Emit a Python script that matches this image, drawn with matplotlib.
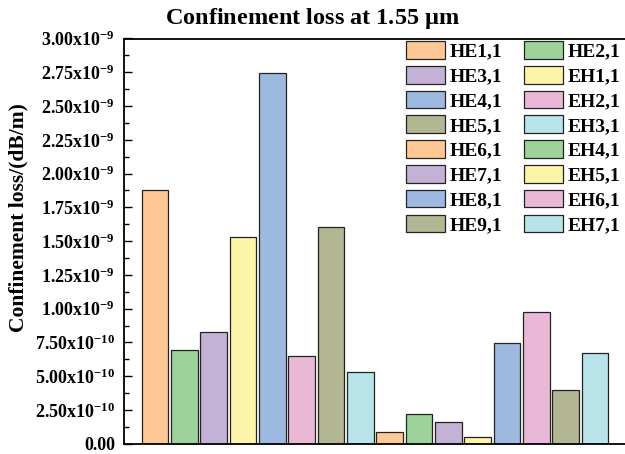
import matplotlib as mpl
import matplotlib.pyplot as plt
from matplotlib.ticker import FixedLocator, MultipleLocator

mpl.use("Agg")
mpl.rcParams.update(
    {
        "font.family": "Liberation Serif",
        "font.weight": "bold",
        "mathtext.fontset": "custom",
        "mathtext.rm": "Liberation Serif:bold",
        "mathtext.it": "Liberation Serif:bold",
        "mathtext.bf": "Liberation Serif:bold",
    }
)

modes = [
    "HE1,1", "HE2,1", "HE3,1", "EH1,1", "HE4,1", "EH2,1", "HE5,1", "EH3,1",
    "HE6,1", "EH4,1", "HE7,1", "EH5,1", "HE8,1", "EH6,1", "HE9,1", "EH7,1",
]
# confinement loss in dB/m
loss = [
    1.88e-9, 0.695e-9, 0.83e-9, 1.533e-9, 2.742e-9, 0.652e-9, 1.607e-9, 0.529e-9,
    0.085e-9, 0.218e-9, 0.16e-9, 0.048e-9, 0.744e-9, 0.973e-9, 0.40e-9, 0.674e-9,
]
palette = ["#FDC895", "#9DD39B", "#C3B1D6", "#FCF4A8", "#9EB9E0", "#E8B8D6", "#B2B692", "#B8E3E9"]

yticks = [i * 0.25e-9 for i in range(13)]
ytick_labels = [
    "0.00",
    r"$\mathrm{2.50x10^{-10}}$",
    r"$\mathrm{5.00x10^{-10}}$",
    r"$\mathrm{7.50x10^{-10}}$",
    r"$\mathrm{1.00x10^{-9}}$",
    r"$\mathrm{1.25x10^{-9}}$",
    r"$\mathrm{1.50x10^{-9}}$",
    r"$\mathrm{1.75x10^{-9}}$",
    r"$\mathrm{2.00x10^{-9}}$",
    r"$\mathrm{2.25x10^{-9}}$",
    r"$\mathrm{2.50x10^{-9}}$",
    r"$\mathrm{2.75x10^{-9}}$",
    r"$\mathrm{3.00x10^{-9}}$",
]

fig = plt.figure(figsize=(6.25, 4.54), dpi=100)
ax = fig.add_axes([124 / 625, 1 - 443.8 / 454, 502 / 625, (443.8 - 38.5) / 454])

colors = [palette[i % len(palette)] for i in range(len(modes))]
bars = ax.bar(
    range(len(modes)), loss, width=0.91, color=colors,
    edgecolor="#222222", linewidth=0.9, label=modes,
)

ax.set_xlim(-1.057, 16.06)
ax.set_ylim(0, 3.0e-9)
ax.set_xticks([])
ax.yaxis.set_major_locator(FixedLocator(yticks))
ax.set_yticklabels(ytick_labels)
ax.yaxis.set_minor_locator(MultipleLocator(0.125e-9))
ax.tick_params(axis="y", which="major", direction="in", length=5.5, width=1.0, labelsize=13, pad=6.5)
ax.tick_params(axis="y", which="minor", direction="in", length=3.4, width=1.0)
for side in ["left", "bottom", "top"]:
    ax.spines[side].set_linewidth(1.3)
ax.spines["right"].set_visible(False)

ax.set_ylabel("Confinement loss/(dB/m)", fontsize=15.5, fontweight="bold")
ax.yaxis.set_label_coords(28 / 625, 1 - 218 / 454, transform=fig.transFigure)

# rows of the legend read left to right, so interleave the two columns
order = list(range(0, 16, 2)) + list(range(1, 16, 2))
handles = [bars.patches[i] for i in order]
ax.legend(
    handles, [modes[i] for i in order], ncol=2, frameon=False,
    loc="upper left", bbox_to_anchor=(406 / 625, 1 - 41 / 454), bbox_transform=fig.transFigure,
    borderpad=0, borderaxespad=0, fontsize=14, handlelength=2.0, handleheight=1.03,
    handletextpad=0.25, columnspacing=1.1, labelspacing=0.27,
)

fig.text(0.5, 1 - 18.5 / 454, r"Confinement loss at 1.55 $\mathrm{\mu}$m", ha="center", va="center",
         fontsize=17.5, fontweight="bold")

fig.savefig("out.png", dpi=100)
